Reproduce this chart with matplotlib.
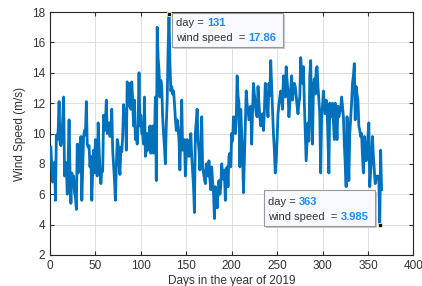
import numpy as np
import matplotlib
matplotlib.use('Agg')
import matplotlib.pyplot as plt
from matplotlib.text import Annotation

plt.rcParams['font.family'] = ['Liberation Sans', 'DejaVu Sans']

# --- Daily mean wind speed, 2019 ---
wind_speed = [
    9.1, 7.6, 6.8, 8.0, 8.1, 5.6, 9.9, 9.6, 10.2, 12.1,
    9.4, 9.2, 9.6, 11.0, 12.4, 7.2, 8.1, 8.0, 6.0, 8.3,
    10.9, 7.5, 5.4, 7.4, 6.5, 7.2, 6.1, 5.8, 5.0, 9.3,
    7.4, 8.2, 9.3, 9.8, 5.6, 7.8, 9.8, 10.2, 9.9, 12.1,
    9.3, 9.1, 9.2, 7.8, 8.5, 5.6, 7.5, 8.9, 7.4, 9.6,
    8.4, 7.2, 10.7, 9.0, 7.6, 6.7, 7.6, 7.5, 11.2, 10.2,
    10.7, 12.2, 10.0, 10.5, 10.7, 9.8, 10.3, 11.6, 8.9, 7.9,
    6.9, 5.6, 7.8, 9.6, 9.3, 8.0, 7.3, 9.1, 8.8, 9.8,
    11.9, 11.0, 11.6, 8.9, 13.4, 12.4, 11.8, 13.3, 11.6, 13.4,
    12.2, 10.5, 12.2, 9.6, 10.2, 9.3, 10.7, 14.0, 10.5, 11.2,
    10.0, 10.0, 9.3, 12.4, 8.5, 8.9, 10.0, 8.9, 9.3, 10.5,
    8.7, 9.6, 10.5, 8.7, 9.5, 12.4, 6.9, 17.0, 15.0, 14.2,
    12.4, 13.5, 13.1, 11.1, 10.0, 9.1, 8.0, 10.5, 12.2, 15.5,
    17.86, 14.8, 12.8, 13.1, 12.6, 12.8, 12.0, 11.0, 10.2, 10.9,
    10.3, 9.6, 7.6, 10.0, 12.2, 8.9, 9.2, 9.6, 7.2, 8.5,
    9.6, 9.3, 8.5, 9.0, 10.0, 8.5, 7.5, 6.5, 4.8, 10.0,
    10.8, 11.6, 9.5, 8.9, 7.6, 9.0, 11.1, 7.8, 7.4, 7.0,
    6.7, 8.0, 7.5, 7.2, 8.2, 7.0, 6.3, 7.8, 6.8, 6.1,
    4.4, 6.5, 5.8, 5.1, 6.1, 6.9, 6.0, 6.5, 8.0, 7.4,
    7.0, 7.6, 5.6, 7.6, 7.8, 6.5, 8.5, 8.7, 7.8, 10.0,
    9.5, 11.1, 10.5, 10.0, 10.9, 13.8, 12.5, 12.0, 7.8, 11.6,
    10.0, 8.5, 6.1, 8.2, 10.5, 12.8, 11.9, 11.6, 10.9, 11.0,
    11.8, 9.3, 11.5, 13.3, 12.6, 11.9, 11.3, 11.1, 13.1, 12.0,
    11.1, 10.5, 11.0, 11.3, 10.2, 11.5, 13.3, 12.6, 11.8, 11.1,
    13.3, 12.5, 14.8, 13.1, 11.5, 10.0, 8.9, 7.4, 8.2, 9.6,
    11.3, 11.9, 12.4, 12.8, 12.2, 11.6, 13.8, 12.9, 12.4, 14.4,
    13.5, 12.8, 11.1, 12.0, 12.8, 13.8, 12.2, 12.8, 13.3, 13.1,
    12.5, 11.8, 11.3, 12.0, 12.4, 15.0, 14.0, 13.3, 14.4, 12.0,
    10.0, 8.2, 9.5, 10.7, 9.5, 13.8, 14.8, 11.1, 9.3, 13.1,
    13.6, 12.6, 14.2, 14.4, 13.1, 12.2, 11.3, 7.4, 11.0, 11.8,
    12.8, 12.0, 11.3, 12.2, 11.8, 9.5, 7.4, 12.0, 11.5, 11.1,
    12.0, 10.8, 9.6, 12.0, 10.8, 9.6, 11.8, 11.1, 11.4, 11.6,
    12.4, 11.8, 11.1, 9.3, 8.0, 6.5, 11.1, 9.0, 6.9, 10.0,
    11.0, 12.0, 13.3, 13.8, 14.6, 10.9, 13.1, 12.6, 12.2, 10.5,
    10.2, 9.8, 10.0, 8.5, 7.4, 9.8, 9.0, 8.2, 9.1, 9.8,
    10.7, 6.5, 7.5, 8.5, 9.8, 8.5, 7.6, 6.7, 7.0, 7.2,
    7.2, 7.0, 3.985, 8.9, 6.3,
]
days = np.arange(1, len(wind_speed) + 1)

# data tips shown on the chart
tip_days = [131, 363]
tip_values = ['17.86', '3.985']

line_color = '#0072BD'
tip_blue = '#1A8CFF'
text_gray = '#333333'

fig = plt.figure(figsize=(4.22, 2.86), dpi=100)
ax = fig.add_axes([0.1185, 0.1084, 0.861, 0.8496])

ax.plot(days, wind_speed, color=line_color, lw=2.0, zorder=3)

ax.set_xlim(0, 400)
ax.set_ylim(2, 18)
ax.set_xticks(np.arange(0, 401, 50))
ax.set_yticks(np.arange(2, 19, 2))
ax.grid(True, color='#dfdfdf', lw=0.7)
ax.set_axisbelow(True)
ax.tick_params(direction='in', length=3, labelsize=8.5, colors=text_gray,
               top=True, right=True, labeltop=False, labelright=False)
for s in ax.spines.values():
    s.set_color('#262626')
    s.set_linewidth(0.8)

ax.set_xlabel('Days in the year of 2019', fontsize=8.5, color=text_gray, labelpad=2)
ax.set_ylabel('Wind Speed (m/s)', fontsize=8.5, color=text_gray, labelpad=4)

# --- data tips ---
boxes = [(0.4076, 0.8357, 0.263, 0.1188), (0.6256, 0.2098, 0.263, 0.1259)]
text_pos = [(0.417, 0.918, 0.866), (0.635, 0.293, 0.243)]
for d, v, box, tp in zip(tip_days, tip_values, boxes, text_pos):
    y_val = wind_speed[d - 1]
    ax.plot(d, y_val, 's', ms=3, mfc='#111111', mec='#f3efb0', mew=0.6,
            zorder=6, clip_on=False)
    shadow = plt.Rectangle((box[0] + 0.004, box[1] - 0.006), box[2], box[3],
                           transform=fig.transFigure, fc='#c8c8c8', ec='none',
                           zorder=7)
    rect = plt.Rectangle((box[0], box[1]), box[2], box[3],
                         transform=fig.transFigure, fc='#f8f8ff', ec='#999999',
                         lw=0.8, zorder=8)
    fig.add_artist(shadow)
    fig.add_artist(rect)
    t1 = fig.text(tp[0], tp[1], 'day = ', fontsize=8, color=text_gray,
                  va='center', zorder=9)
    fig.add_artist(Annotation(str(d), xy=(1, 0.5), xycoords=t1,
                              va='center', fontsize=8, color=tip_blue,
                              fontweight='bold', zorder=9))
    t2 = fig.text(tp[0], tp[2], 'wind speed  = ', fontsize=8, color=text_gray,
                  va='center', zorder=9)
    fig.add_artist(Annotation(v, xy=(1, 0.5), xycoords=t2,
                              va='center', fontsize=8, color=tip_blue,
                              fontweight='bold', zorder=9))

fig.savefig('out.png', dpi=100)
